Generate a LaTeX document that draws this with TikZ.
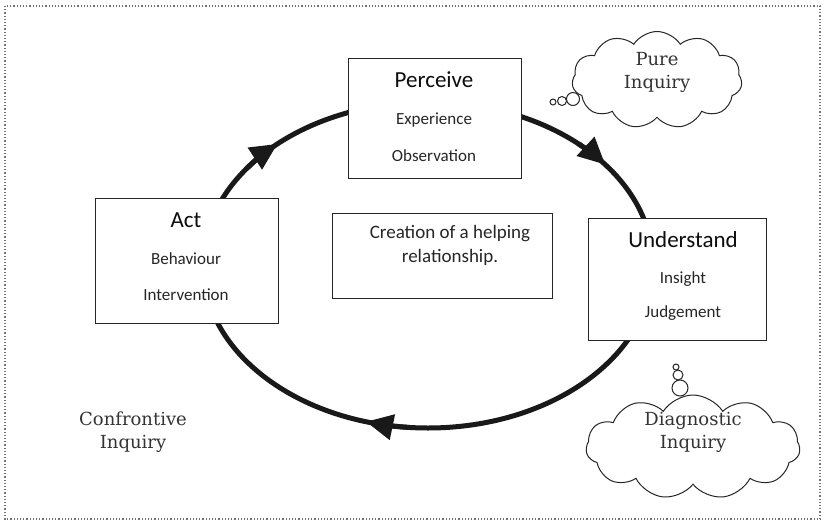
\documentclass[tikz,border=0pt]{standalone}
\usepackage{fontspec}
\setmainfont{Carlito}
\newfontfamily\cloudfont{DejaVu Serif}
\usetikzlibrary{shapes.symbols,arrows.meta}
\begin{document}
\begin{tikzpicture}[x=1pt,y=-1pt,
  box/.style={draw=black!85,line width=1pt,fill=white,anchor=north west,inner sep=0pt},
  ttl/.style={font=\fontsize{23}{26}\selectfont,text=black!95,inner sep=0pt},
  sub/.style={font=\fontsize{17}{20}\selectfont,text=black!85,inner sep=0pt},
  ctxt/.style={font=\cloudfont\fontsize{18}{23}\selectfont,text=black!80,align=center,inner sep=0pt},
  puff/.style={draw=black!85,line width=1pt,cloud,cloud puffs=11,cloud puff arc=115,cloud ignores aspect,fill=white},
  bub/.style={draw=black!85,line width=1pt,fill=white},
  ring/.style={line width=5pt,draw=black!90},
  cyc/.style={line width=5pt,draw=black!90,-{Triangle[length=27pt,width=25pt]}}
]
\useasboundingbox (0,0) rectangle (825,523);
\draw[dotted,line width=1.2pt,black!55] (5,6) rectangle (820,519);

% cycle
\draw[ring] (428,265) ellipse [x radius=225, y radius=163];
\draw[cyc] ([shift={(428,265)}]-48:225 and 163) arc[start angle=-48, end angle=-38, x radius=225, y radius=163];
\draw[cyc] ([shift={(428,265)}]216:225 and 163) arc[start angle=216, end angle=228, x radius=225, y radius=163];
\draw[cyc] ([shift={(428,265)}]95:225 and 163) arc[start angle=95, end angle=106, x radius=225, y radius=163];

% boxes
\node[box,minimum width=173pt,minimum height=120pt] (perceive) at (348,58) {};
\node[ttl] (perceiveT) at (434,80) {Perceive};
\node[sub] (exper) at (434,120) {Experience};
\node[sub] (obs) at (434,156) {Observation};

\node[box,minimum width=178pt,minimum height=122pt] (understand) at (588,218) {};
\node[ttl] (understandT) at (683,240) {Understand};
\node[sub] (insight) at (683,279) {Insight};
\node[sub] (judge) at (683,313) {Judgement};

\node[box,minimum width=183pt,minimum height=125pt] (act) at (95,198) {};
\node[ttl] (actT) at (186,220) {Act};
\node[sub] (behav) at (186,259) {Behaviour};
\node[sub] (interv) at (186,295) {Intervention};

\node[box,minimum width=220pt,minimum height=85pt] (centre) at (332,213) {};
\node[font=\fontsize{19}{24}\selectfont,text=black!85,align=center,inner sep=0pt] (centreT) at (450,245) {Creation of a helping\\relationship.};

% clouds
\node[puff,minimum width=170pt,minimum height=97pt] (pure) at (657,80) {};
\draw[bub] (573,99) circle[radius=6.5];
\draw[bub] (562,101) circle[radius=4.5];
\draw[bub] (553,102) circle[radius=3];
\node[ctxt] (pureT) at (657,72) {Pure\\Inquiry};

\node[puff,minimum width=214pt,minimum height=104pt] (diag) at (693,447) {};
\draw[bub] (680,388) circle[radius=8];
\draw[bub] (678,375) circle[radius=5];
\draw[bub] (676,367) circle[radius=3];
\node[ctxt] (diagT) at (693,432) {Diagnostic\\Inquiry};

\node[ctxt] (confT) at (133,432) {Confrontive\\Inquiry};
\end{tikzpicture}
\end{document}
